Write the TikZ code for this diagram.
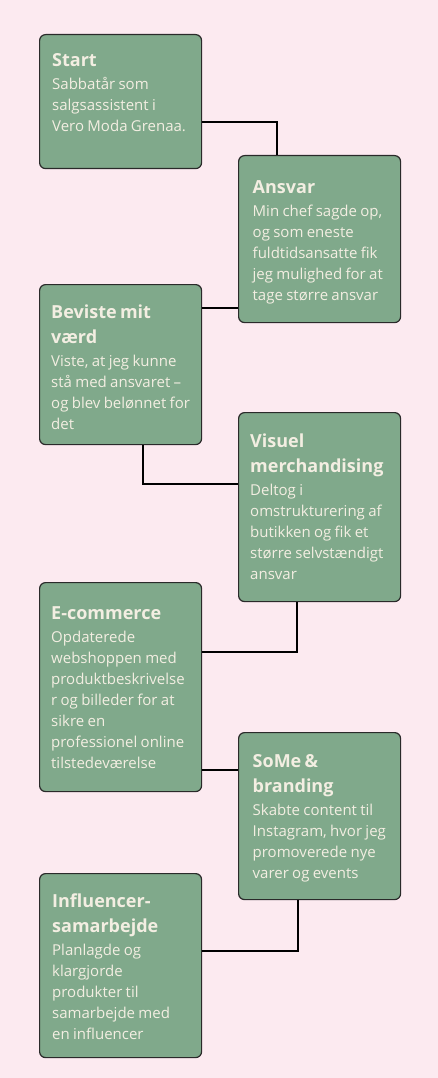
\documentclass[tikz,border=0pt]{standalone}
\usepackage{fontspec}
\setmainfont{Open Sans}
\definecolor{bgpink}{HTML}{FCEAF0}
\definecolor{boxgreen}{HTML}{80A98B}
\definecolor{boxline}{HTML}{2A2A2A}
\definecolor{txtcream}{HTML}{F3EEE2}
\newcommand{\ttl}{\fontsize{18}{25}\selectfont\bfseries}
\newcommand{\bdy}{\fontsize{15}{21}\selectfont\mdseries}
\tikzset{
  stepbox/.style={draw=boxline, line width=1.2pt, fill=boxgreen, rounded corners=6pt,
    minimum width=162pt, anchor=north west, inner sep=0pt},
  steptxt/.style={anchor=north west, inner sep=0pt, text width=170pt, align=left,
    text=txtcream},
  conn/.style={draw=black, line width=1.8pt}
}
\newcommand{\steptext}[2]{{\ttl\rule{0pt}{13pt}#1\par}\vspace{2pt}{\bdy #2\par}}
\begin{document}
\begin{tikzpicture}[x=1pt,y=-1pt]
\fill[bgpink] (0,0) rectangle (438,1078);
\useasboundingbox (0,0) rectangle (438,1078);
% boxes
\node[stepbox, minimum height=134pt] (s1) at (39,34) {};
\node[stepbox, minimum height=167pt] (s2) at (238,155) {};
\node[stepbox, minimum height=160pt] (s3) at (39,284) {};
\node[stepbox, minimum height=189pt] (s4) at (238,412) {};
\node[stepbox, minimum height=209pt] (s5) at (39,582) {};
\node[stepbox, minimum height=167pt] (s6) at (238,732) {};
\node[stepbox, minimum height=184pt] (s7) at (39,873) {};
% junctions
\coordinate (j1) at (277,122);
\coordinate (j2) at (0,308);
\coordinate (j3) at (143,484);
\coordinate (j4) at (297,652);
\coordinate (j5) at (0,770);
\coordinate (j6) at (298,951);
% connectors
\draw[conn] (s1.east |- j1) -| (s2.north -| j1);
\draw[conn] (s2.west |- j2) -- (s3.east |- j2);
\draw[conn] (s3.south -| j3) |- (s4.west |- j3);
\draw[conn] (s4.south -| j4) |- (s5.east |- j4);
\draw[conn] (s5.east |- j5) -- (s6.west |- j5);
\draw[conn] (s6.south -| j6) |- (s7.east |- j6);
% texts
\node[steptxt] (t1) at (52,53) {\steptext{Start}{Sabbatår som\\salgsassistent i\\Vero Moda Grenaa.}};
\node[steptxt] (t2) at (252.5,180) {\steptext{Ansvar}{Min chef sagde op,\\og som eneste\\fuldtidsansatte fik\\jeg mulighed for at\\tage større ansvar}};
\node[steptxt] (t3) at (51,305) {\steptext{Beviste mit\\værd}{Viste, at jeg kunne\\stå med ansvaret –\\og blev belønnet for\\det}};
\node[steptxt] (t4) at (250,433.7) {\steptext{Visuel\\merchandising}{Deltog i\\omstrukturering af\\butikken og fik et\\større selvstændigt\\ansvar}};
\node[steptxt] (t5) at (51,606) {\steptext{E-commerce}{Opdaterede\\webshoppen med\\produktbeskrivelse\\r og billeder for at\\sikre en\\professionel online\\tilstedeværelse}};
\node[steptxt] (t6) at (252.5,754.7) {\steptext{SoMe \&\\branding}{Skabte content til\\Instagram, hvor jeg\\promoverede nye\\varer og events}};
\node[steptxt] (t7) at (52,893.7) {\steptext{Influencer-\\samarbejde}{Planlagde og\\klargjorde\\produkter til\\samarbejde med\\en influencer}};
\end{tikzpicture}
\end{document}
